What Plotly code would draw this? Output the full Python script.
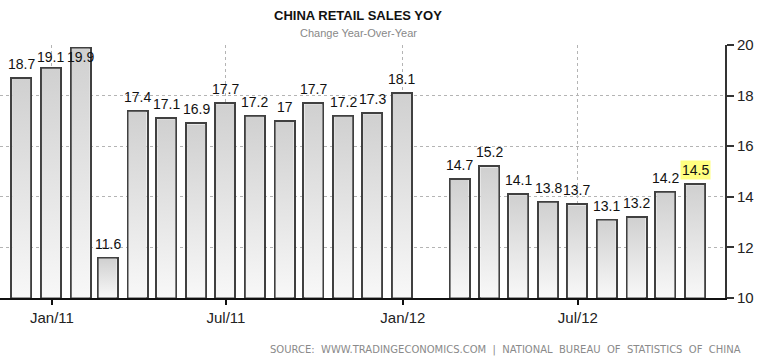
import plotly.graph_objects as go
import pandas as pd

# ---- data ----
months = ["2010-11-30", "2010-12-31", "2011-01-31", "2011-02-28", "2011-03-31",
          "2011-04-30", "2011-05-31", "2011-06-30", "2011-07-31", "2011-08-31",
          "2011-09-30", "2011-10-31", "2011-11-30", "2011-12-31", "2012-02-29",
          "2012-03-31", "2012-04-30", "2012-05-31", "2012-06-30", "2012-07-31",
          "2012-08-31", "2012-09-30", "2012-10-31"]
retail_yoy = [18.7, 19.1, 19.9, 11.6, 17.4, 17.1, 16.9, 17.7, 17.2, 17.0,
              17.7, 17.2, 17.3, 18.1, 14.7, 15.2, 14.1, 13.8, 13.7, 13.1,
              13.2, 14.2, 14.5]
tick_dates = ["2011-01-01", "2011-07-01", "2012-01-01", "2012-07-01"]
tick_labels = ["Jan/11", "Jul/11", "Jan/12", "Jul/12"]
y_ticks = [10, 12, 14, 16, 18, 20]

# ---- geometry helpers ----
PLOT_TOP, PLOT_H, PLOT_W = 45, 253, 725
Y_MIN, Y_MAX = 10, 20
X_RANGE = ["2010-11-08", "2012-12-01"]
px_per_unit = PLOT_H / (Y_MAX - Y_MIN)
px_per_day = PLOT_W / (pd.Timestamp(X_RANGE[1]) - pd.Timestamp(X_RANGE[0])).days
BAR_DAYS = 20.8

def py(ypx):
    return 1 + (PLOT_TOP - ypx) / PLOT_H

fig = go.Figure()

# gradient fill of each bar (drawn inside the outline)
half_in = pd.Timedelta(days=BAR_DAYS / 2 - 1.0 / px_per_day)
y_in = 1.0 / px_per_unit
for d, v in zip(months, retail_yoy):
    c = pd.Timestamp(d)
    x0, x1 = c - half_in, c + half_in
    y0, y1 = Y_MIN + y_in * 0.5, v - y_in
    fig.add_trace(go.Scatter(
        x=[x0, x1, x1, x0, x0], y=[y0, y0, y1, y1, y0],
        mode="none", fill="toself",
        fillgradient=dict(type="vertical",
                          colorscale=[[0, "#f8f8f8"], [1, "#d0d0d0"]]),
        hoverinfo="skip", showlegend=False,
    ))

# bars (outline)
fig.add_trace(go.Bar(
    x=months, y=[v - Y_MIN for v in retail_yoy], base=Y_MIN,
    width=BAR_DAYS * 86400000,
    marker=dict(color="rgba(0,0,0,0)", line=dict(color="#404040", width=2)),
    hoverinfo="skip", showlegend=False,
))

annotations = []
label_offset = 14 / px_per_unit
label_cap = Y_MAX - 12 / px_per_unit
for i, (d, v) in enumerate(zip(months, retail_yoy)):
    last = i == len(retail_yoy) - 1
    annotations.append(dict(
        x=d, y=min(v + label_offset, label_cap), xref="x", yref="y",
        text=f"{v:g}", showarrow=False, yanchor="middle", xanchor="center",
        font=dict(family="Liberation Sans, Arial", size=14, color="#111111"),
        bgcolor="#ffff80" if last else "rgba(0,0,0,0)", borderpad=1,
    ))

annotations += [
    dict(x=358 / PLOT_W, y=py(15.5), xref="paper", yref="paper",
         text="<b>CHINA RETAIL SALES YOY</b>", showarrow=False,
         xanchor="center", yanchor="middle",
         font=dict(family="Liberation Sans, Arial", size=13, color="#111111")),
    dict(x=358.5 / PLOT_W, y=py(33), xref="paper", yref="paper",
         text="Change Year-Over-Year", showarrow=False,
         xanchor="center", yanchor="middle",
         font=dict(family="Liberation Sans, Arial", size=11, color="#888888")),
    dict(x=743 / PLOT_W, y=py(350), xref="paper", yref="paper",
         text="SOURCE:  WWW.TRADINGECONOMICS.COM  |  NATIONAL  BUREAU  OF  STATISTICS  OF  CHINA",
         showarrow=False, xanchor="right", yanchor="middle",
         font=dict(family="DejaVu Sans", size=10, color="#8a8a8a")),
]

fig.update_layout(
    width=760, height=361,
    margin=dict(l=0, r=760 - PLOT_W, t=PLOT_TOP, b=361 - PLOT_TOP - PLOT_H),
    paper_bgcolor="white", plot_bgcolor="white",
    bargap=0, showlegend=False,
    annotations=annotations,
    xaxis=dict(
        type="date", range=X_RANGE,
        tickvals=tick_dates, ticktext=tick_labels,
        ticks="outside", ticklen=5, tickwidth=1.5, tickcolor="#111111",
        showline=True, linecolor="#111111", linewidth=1.5,
        showgrid=True, gridcolor="#b4b4b4", griddash="dot", gridwidth=1,
        tickfont=dict(family="Liberation Sans, Arial", size=15, color="#222222"),
        zeroline=False, fixedrange=True,
    ),
    yaxis=dict(
        side="right", range=[Y_MIN, Y_MAX], tickvals=y_ticks,
        ticks="outside", ticklen=7, tickwidth=2, tickcolor="#333333",
        showline=True, linecolor="#333333", linewidth=2,
        showgrid=True, gridcolor="#b4b4b4", griddash="dot", gridwidth=1,
        tickfont=dict(family="Liberation Sans, Arial", size=15, color="#222222"),
        zeroline=False, fixedrange=True,
    ),
)

fig.write_html("out.html", config={"displayModeBar": False})

# remove the default page margin so the 760x361 figure fills the window
with open("out.html", "r", encoding="utf-8") as f:
    html = f.read()
html = html.replace("<head>", "<head><style>html,body{margin:0;padding:0;overflow:hidden;}</style>", 1)
with open("out.html", "w", encoding="utf-8") as f:
    f.write(html)
